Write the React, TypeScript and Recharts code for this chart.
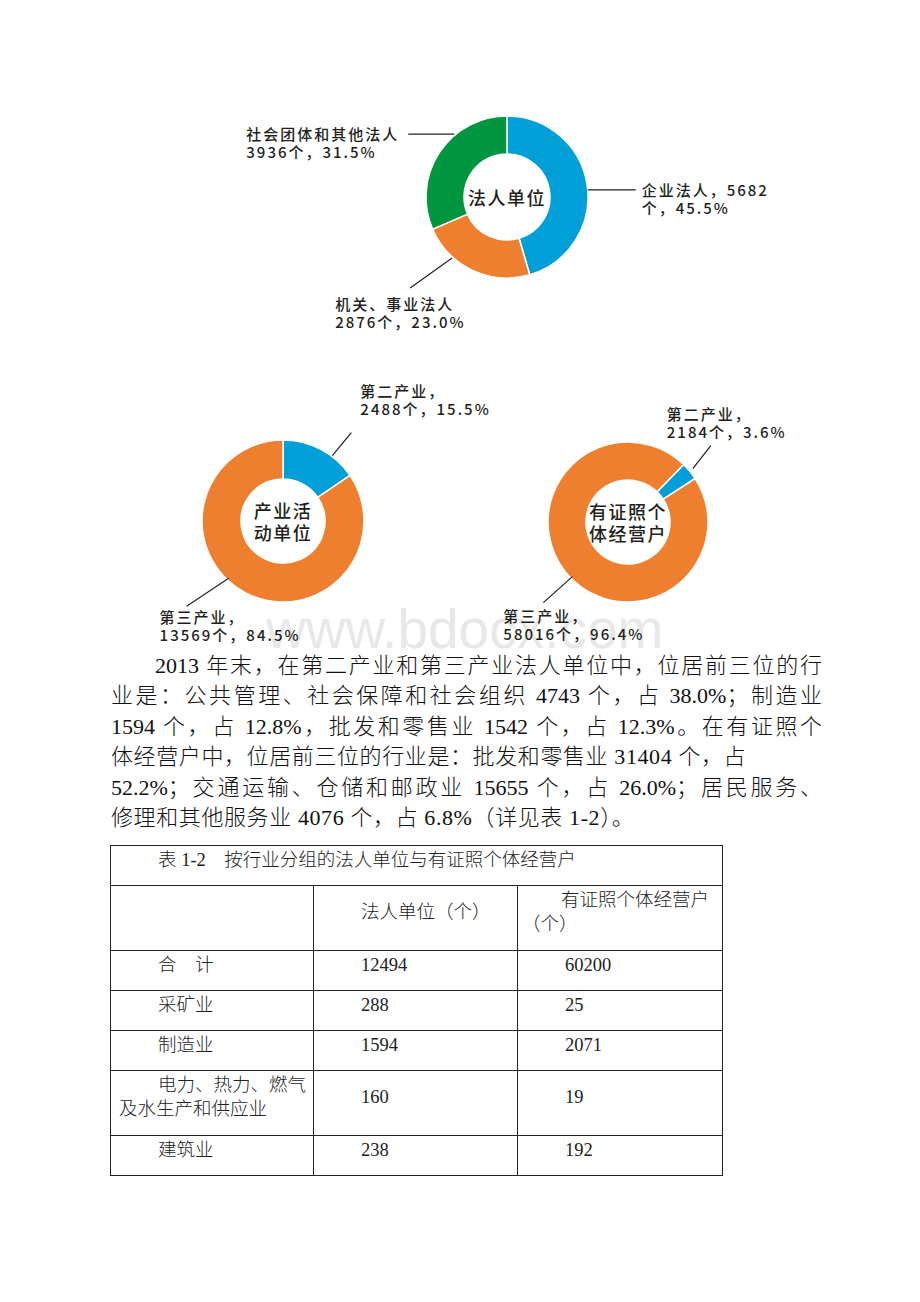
import { PieChart, Pie, Cell } from "recharts";

// 法人单位 by type
const LEGAL_NAMES = ["企业法人", "机关、事业法人", "社会团体和其他法人"];
const LEGAL_COUNTS = [5682, 2876, 3936];
const LEGAL_SHARES = ["45.5%", "23.0%", "31.5%"];

// 产业活动单位 / 有证照个体经营户 by sector
const SECTOR_NAMES = ["第二产业", "第三产业"];
const ACTIVITY_COUNTS = [2488, 13569];
const ACTIVITY_SHARES = ["15.5%", "84.5%"];
const HOUSEHOLD_COUNTS = [2184, 58016];
const HOUSEHOLD_SHARES = ["3.6%", "96.4%"];

const PARAGRAPH = [
  "2013 年末，在第二产业和第三产业法人单位中，位居前三位的行",
  "业是：公共管理、社会保障和社会组织 4743 个，占 38.0%；制造业",
  "1594 个，占 12.8%，批发和零售业 1542 个，占 12.3%。在有证照个",
  "体经营户中，位居前三位的行业是：批发和零售业 31404 个，占",
  "52.2%；交通运输、仓储和邮政业 15655 个，占 26.0%；居民服务、",
  "修理和其他服务业 4076 个，占 6.8%（详见表 1-2）。",
];

const TABLE_TITLE = "表 1-2　按行业分组的法人单位与有证照个体经营户";
const TABLE_HEADS = ["法人单位（个）", "有证照个体经营户\n（个）"];
const TABLE_ROWS = ["合　计", "采矿业", "制造业", "电力、热力、燃气\n及水生产和供应业", "建筑业"];
const TABLE_LEGAL = [12494, 288, 1594, 160, 238];
const TABLE_HOUSEHOLD = [60200, 25, 2071, 19, 192];

const BLUE = "#009fd8";
const ORANGE = "#ee7f2f";
const GREEN = "#00963f";
const INK = "#231f20";
const CJK = "'Noto Sans CJK SC', sans-serif";

const legalData = LEGAL_NAMES.map((name, i) => ({ name, value: LEGAL_COUNTS[i], share: LEGAL_SHARES[i] }));
const activityData = SECTOR_NAMES.map((name, i) => ({ name, value: ACTIVITY_COUNTS[i], share: ACTIVITY_SHARES[i] }));
const householdData = SECTOR_NAMES.map((name, i) => ({ name, value: HOUSEHOLD_COUNTS[i], share: HOUSEHOLD_SHARES[i] }));

// leader line: start on ring at angle/r, run dx/dy, text block offset tx/ty from line end
const LEADERS: Record<string, any> = {
  "legal-0": { angle: 5, r: 81, dx: 48, dy: 0, tx: 6, ty: 0, split: true },
  "legal-1": { angle: 228, r: 82, dx: -42, dy: 30, tx: -75, ty: 16 },
  "legal-2": { angle: 130, r: 82, dx: -46, dy: 0, tx: -162, ty: -1 },
  "activity-0": { angle: 53, r: 82, dx: 19, dy: -23, tx: 9, ty: -42 },
  "activity-1": { angle: 226.5, r: 79, dx: -42, dy: 28, tx: -27, ty: 10 },
  "household-0": { angle: 39.5, r: 84, dx: 18, dy: -23, tx: -44, ty: -32 },
  "household-1": { angle: 224.5, r: 78, dx: -29, dy: 26, tx: -40, ty: 13 },
};

const CENTER_TITLES: Record<string, string[]> = {
  legal: ["法人单位"],
  activity: ["产业活", "动单位"],
  household: ["有证照个", "体经营户"],
};

const makeLabel = (chart: string) => (props: any) => {
  const { cx, cy, index, name, value, payload } = props;
  const lay = LEADERS[`${chart}-${index}`];
  const rad = (lay.angle * Math.PI) / 180;
  const x0 = cx + lay.r * Math.cos(rad);
  const y0 = cy - lay.r * Math.sin(rad);
  const x1 = x0 + lay.dx;
  const y1 = y0 + lay.dy;
  const share = payload?.share ?? props.share;
  let lines: string[];
  if (chart === "legal") {
    lines = lay.split ? [`${name}，${value}`, `个，${share}`] : [name, `${value}个，${share}`];
  } else {
    lines = [`${name}，`, `${value}个，${share}`];
  }
  const title = CENTER_TITLES[chart];
  return (
    <g key={`lbl-${chart}-${index}`}>
      <line x1={x0} y1={y0} x2={x1} y2={y1} stroke={INK} strokeWidth={1.2} />
      {lines.map((t, i) => (
        <text key={i} x={x1 + lay.tx} y={y1 + lay.ty + i * 18} fontSize={15} letterSpacing={2}
          fontWeight={500} fontFamily={CJK} fill={INK} dominantBaseline="central" textAnchor="start">
          {t}
        </text>
      ))}
      {index === 0 &&
        title.map((t, i) => (
          <text key={`t${i}`} x={cx} y={cy + (i - (title.length - 1) / 2) * 22} fontSize={18} letterSpacing={1.5}
            fontWeight={500} fontFamily={CJK} fill={INK} dominantBaseline="central" textAnchor="middle">
            {t}
          </text>
        ))}
    </g>
  );
};

const serif = "'Liberation Serif', 'Noto Sans CJK SC', serif";
const ROW_HEIGHTS = [40, 40, 40, 65, 40];

export default function App() {
  const cell: React.CSSProperties = {
    border: "1px solid #222",
    padding: "0 3px 12px 8px",
    textIndent: 39,
    verticalAlign: "middle",
    whiteSpace: "pre-line",
    lineHeight: "24px",
  };
  return (
    <div style={{ position: "absolute", left: 0, top: 0, width: 920, height: 1302, background: "#fff", overflow: "hidden" }}>
      <div style={{ position: "absolute", left: 266, top: 596, fontFamily: "'Liberation Sans', sans-serif", fontSize: 55, color: "#e8e8e8", lineHeight: "66px" }}>
        www.bdocx.com
      </div>
      <div style={{ position: "absolute", left: 0, top: 0 }}>
        <PieChart width={920} height={660}>
          <Pie data={legalData} dataKey="value" nameKey="name" cx={502} cy={192} innerRadius={43} outerRadius={81}
            startAngle={90} endAngle={-270} stroke="#fff" strokeWidth={1.5} isAnimationActive={false}
            label={makeLabel("legal")} labelLine={false}>
            {legalData.map((d, i) => (
              <Cell key={d.name} fill={[BLUE, ORANGE, GREEN][i]} />
            ))}
          </Pie>
          <Pie data={activityData} dataKey="value" nameKey="name" cx={278} cy={516} innerRadius={42} outerRadius={81}
            startAngle={90} endAngle={-270} stroke="#fff" strokeWidth={1.5} isAnimationActive={false}
            label={makeLabel("activity")} labelLine={false}>
            {activityData.map((d, i) => (
              <Cell key={d.name} fill={[BLUE, ORANGE][i]} />
            ))}
          </Pie>
          <Pie data={householdData} dataKey="value" nameKey="name" cx={623} cy={517} innerRadius={42} outerRadius={80}
            startAngle={46} endAngle={-314} stroke="#fff" strokeWidth={1.5} isAnimationActive={false}
            label={makeLabel("household")} labelLine={false}>
            {householdData.map((d, i) => (
              <Cell key={d.name} fill={[BLUE, ORANGE][i]} />
            ))}
          </Pie>
        </PieChart>
      </div>

      {PARAGRAPH.map((line, i) => {
        const justify = i !== 3 && i !== PARAGRAPH.length - 1;
        return (
          <div key={i} style={{
            position: "absolute", left: i === 0 ? 155 : 111, top: 651 + i * 30.4,
            width: i === 0 ? 667 : 711, height: 30, lineHeight: "30px",
            fontFamily: serif, fontSize: 22, fontWeight: 300, color: "#111",
            textAlign: justify ? "justify" : "left", textAlignLast: justify ? "justify" : "left",
            letterSpacing: justify ? 0 : 0.6, whiteSpace: "nowrap",
          }}>
            {line}
          </div>
        );
      })}

      <table style={{
        position: "absolute", left: 110, top: 845, width: 613, borderCollapse: "collapse",
        tableLayout: "fixed", fontFamily: serif, fontSize: 18.5, fontWeight: 300, color: "#222",
      }}>
        <colgroup>
          <col style={{ width: 203 }} />
          <col style={{ width: 204 }} />
          <col style={{ width: 205 }} />
        </colgroup>
        <tbody>
          <tr style={{ height: 40 }}>
            <td colSpan={3} style={cell}>{TABLE_TITLE}</td>
          </tr>
          <tr style={{ height: 65 }}>
            <td style={cell}></td>
            <td style={cell}>{TABLE_HEADS[0]}</td>
            <td style={{ ...cell, paddingLeft: 4, whiteSpace: "pre" }}>{TABLE_HEADS[1]}</td>
          </tr>
          {TABLE_ROWS.map((row, i) => (
            <tr key={row} style={{ height: ROW_HEIGHTS[i] }}>
              <td style={{ ...cell, whiteSpace: "pre" }}>{row}</td>
              <td style={cell}>{TABLE_LEGAL[i]}</td>
              <td style={cell}>{TABLE_HOUSEHOLD[i]}</td>
            </tr>
          ))}
        </tbody>
      </table>
    </div>
  );
}
